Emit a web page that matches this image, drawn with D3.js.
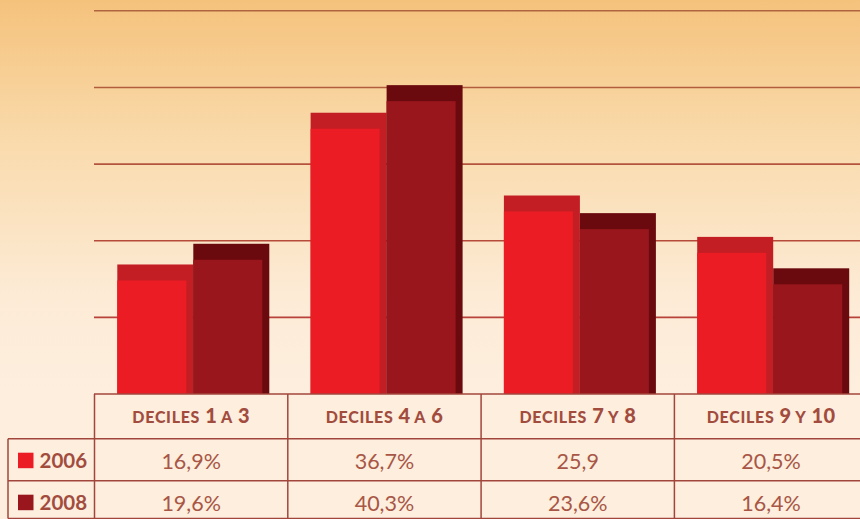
<!DOCTYPE html>
<html>
<head>
<meta charset="utf-8">
<script src="https://cdn.jsdelivr.net/npm/d3@7"></script>
<style>
  html, body { margin: 0; padding: 0; background: #fdeede; }
  svg { display: block; }
</style>
</head>
<body>
<div id="chart"></div>
<script>
// datos
var categories = ["DECILES 1 A 3", "DECILES 4 A 6", "DECILES 7 Y 8", "DECILES 9 Y 10"];
var years = ["2006", "2008"];
var values2006 = [16.9, 36.7, 25.9, 20.5];
var values2008 = [19.6, 40.3, 23.6, 16.4];
var labels2006 = ["16,9%", "36,7%", "25,9", "20,5%"];
var labels2008 = ["19,6%", "40,3%", "23,6%", "16,4%"];
var gridTicks = [10, 20, 30, 40, 50];

var seriesValues = [values2006, values2008];
var seriesLabels = [labels2006, labels2008];

var width = 860,
    height = 519;

var frontColor = ["#ec1c24", "#98161c"],
    sideColor = ["#c41e25", "#6b0a0e"],
    lineColor = "#a2463c",
    textColor = "#a24c3e",
    valueColor = "#a85645";

var svg = d3.select("#chart").append("svg")
    .attr("width", width)
    .attr("height", height);

// fondo degradado
var defs = svg.append("defs");
var grad = defs.append("linearGradient")
    .attr("id", "bg")
    .attr("x1", 0).attr("y1", 0)
    .attr("x2", 0).attr("y2", 1);
grad.append("stop").attr("offset", "0%").attr("stop-color", "#f5c27c");
grad.append("stop").attr("offset", "35%").attr("stop-color", "#f9daab");
grad.append("stop").attr("offset", "75%").attr("stop-color", "#fdebd6");
grad.append("stop").attr("offset", "100%").attr("stop-color", "#fdeede");

var baseY = 394;

svg.append("rect")
    .attr("width", width)
    .attr("height", baseY)
    .attr("fill", "url(#bg)");
svg.append("rect")
    .attr("y", baseY)
    .attr("width", width)
    .attr("height", height - baseY)
    .attr("fill", "#fdeede");

// escalas
var y = d3.scaleLinear()
    .domain([0, 50])
    .range([baseY, 10.8]);

var xCol = d3.scaleBand()
    .domain(categories)
    .range([94.5, 94.5 + 4 * 193.3]);

var xBar = d3.scaleBand()
    .domain(years)
    .range([22.8, 22.8 + 152]);

var gridColor = d3.scaleLinear()
    .domain([10, 50])
    .range(["#b8423a", "#b0643f"]);

// lineas de la grilla
svg.selectAll(".grid")
    .data(gridTicks)
    .enter().append("line")
    .attr("class", "grid")
    .attr("x1", 94)
    .attr("x2", width)
    .attr("y1", function(d) { return y(d); })
    .attr("y2", function(d) { return y(d); })
    .attr("stroke", function(d) { return gridColor(d); })
    .attr("stroke-width", 1.6);

// barras
var depthTop = 16,
    depthSide = 7;

var groups = svg.selectAll(".grp")
    .data(categories)
    .enter().append("g")
    .attr("class", "grp")
    .attr("transform", function(d) { return "translate(" + xCol(d) + ",0)"; });

years.forEach(function(yr, s) {
    groups.append("rect")
        .attr("x", xBar(yr))
        .attr("y", function(d, i) { return y(seriesValues[s][i]); })
        .attr("width", xBar.bandwidth())
        .attr("height", function(d, i) { return baseY - y(seriesValues[s][i]); })
        .attr("fill", sideColor[s]);
    groups.append("rect")
        .attr("x", xBar(yr))
        .attr("y", function(d, i) { return y(seriesValues[s][i]) + depthTop; })
        .attr("width", xBar.bandwidth() - depthSide)
        .attr("height", function(d, i) { return baseY - y(seriesValues[s][i]) - depthTop; })
        .attr("fill", frontColor[s]);
});

// tabla
var rowTop = [baseY, 438.7, 480.7],
    rowBottom = 518.5,
    leftX = 8;

var colEdges = categories.map(function(c) { return xCol(c); });
colEdges.push(xCol(categories[3]) + xCol.bandwidth());

var tbl = svg.append("g")
    .attr("stroke", lineColor)
    .attr("stroke-width", 1.5);

tbl.append("line").attr("x1", 94).attr("x2", width).attr("y1", rowTop[0]).attr("y2", rowTop[0]);
[rowTop[1], rowTop[2], rowBottom].forEach(function(v) {
    tbl.append("line").attr("x1", leftX).attr("x2", width).attr("y1", v).attr("y2", v);
});
tbl.append("line").attr("x1", leftX).attr("x2", leftX).attr("y1", rowTop[1]).attr("y2", rowBottom);
colEdges.forEach(function(v) {
    tbl.append("line").attr("x1", v).attr("x2", v).attr("y1", rowTop[0]).attr("y2", rowBottom);
});

// encabezados
var head = svg.selectAll(".head")
    .data(categories)
    .enter().append("text")
    .attr("class", "head")
    .attr("x", function(d) { return xCol(d) + xCol.bandwidth() / 2; })
    .attr("y", 423)
    .attr("text-anchor", "middle")
    .style("font-family", "Lato, sans-serif")
    .style("font-weight", "900")
    .style("fill", textColor);

head.each(function(d) {
    var t = d3.select(this);
    d.split(" ").forEach(function(tok, k) {
        var isNum = /^[0-9]+$/.test(tok);
        t.append("tspan")
            .text((k > 0 ? " " : "") + tok)
            .style("font-size", isNum ? "20px" : "16px")
            .style("letter-spacing", isNum ? "0.3px" : "0.7px");
    });
});

// filas
years.forEach(function(yr, s) {
    var base = rowTop[s + 1] + 29.5;
    svg.append("rect")
        .attr("x", 18)
        .attr("y", base - 15.5)
        .attr("width", 15.5)
        .attr("height", 15.5)
        .attr("fill", frontColor[s]);
    svg.append("text")
        .attr("x", 39.5)
        .attr("y", base)
        .text(yr)
        .style("font-family", "Lato, sans-serif")
        .style("font-weight", "bold")
        .style("font-size", "20.5px")
        .style("fill", textColor);
    svg.selectAll(".val" + yr)
        .data(categories)
        .enter().append("text")
        .attr("x", function(d) { return xCol(d) + xCol.bandwidth() / 2; })
        .attr("y", base + 0.5)
        .attr("text-anchor", "middle")
        .text(function(d, i) { return seriesLabels[s][i]; })
        .style("font-family", "Lato, sans-serif")
        .style("font-size", "21.5px")
        .style("fill", valueColor);
});
</script>
</body>
</html>
